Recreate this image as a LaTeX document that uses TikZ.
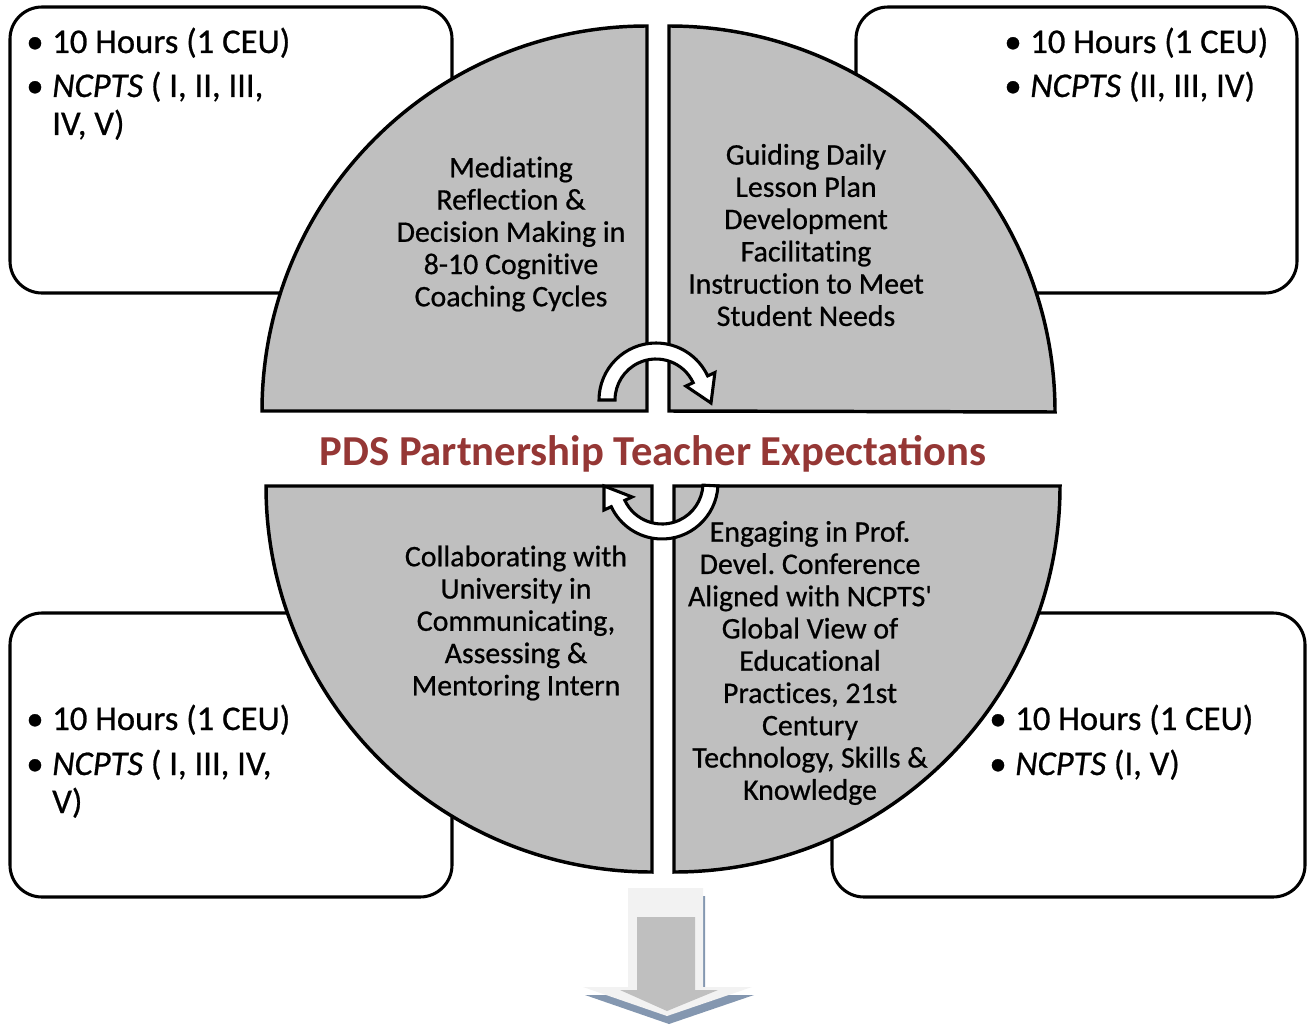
\documentclass[tikz,border=0pt]{standalone}
\usepackage{fontspec}
\setmainfont{Carlito}[RawFeature={embolden=0.7},Ligatures={NoCommon}]
\newfontfamily\titlefont{Carlito}
\definecolor{quad}{HTML}{BFBFBF}
\definecolor{ttl}{HTML}{953735}
\definecolor{shad}{HTML}{8497B0}
\definecolor{lite}{HTML}{F2F2F2}
\frenchspacing
\begin{document}
\begin{tikzpicture}[x=0.75pt,y=-0.75pt,
  infobox/.style={draw=black,line width=2.3pt,rounded corners=24pt,fill=white},
  quadrant/.style={draw=black,line width=2.6pt,fill=quad,line join=miter},
  quadtext/.style={align=center,inner sep=0pt,font=\fontsize{22.4}{24.2}\selectfont},
  boxtext/.style={anchor=base west,inner sep=0pt,font=\fontsize{26}{30}\selectfont},
  bul/.style={anchor=base,inner sep=0pt,font=\fontsize{26}{30}\selectfont},
  cyclearrow/.style={draw=black,line width=2.3pt,fill=white,line join=miter},
  titletext/.style={anchor=base,inner sep=0pt,text=ttl,font=\titlefont\fontsize{32}{38}\selectfont\bfseries}
]
\useasboundingbox (0,0) rectangle (1308,1027);
% info boxes
\draw[infobox] (10,7) rectangle (452,293);
\draw[infobox] (856,7) rectangle (1297,293);
\draw[infobox] (10,613) rectangle (452,897);
\draw[infobox] (832,613) rectangle (1305,897);
% quadrants
\draw[quadrant] (647,411) -- (262,411) arc[start angle=180,end angle=270,radius=385] -- cycle;
\draw[quadrant] (669,411) -- (669,26) arc[start angle=270,end angle=360,radius=386] -- cycle;
\draw[quadrant] (652,486) -- (266,486) arc[start angle=180,end angle=90,radius=386] -- cycle;
\draw[quadrant] (674,486) -- (1060,486) arc[start angle=0,end angle=90,radius=386] -- cycle;
% cycle arrows
\draw[cyclearrow,shift={(656,400)}] (180:57) arc[start angle=180,end angle=335,radius=57]
  -- (335:65) -- (55,3) -- (335:33) -- (335:41) arc[start angle=335,end angle=180,radius=41] -- cycle;
\draw[cyclearrow,shift={(662,483)}] (3:56) arc[start angle=3,end angle=155,radius=56]
  -- (155:64) -- (-58,3) -- (155:33) -- (155:41) arc[start angle=155,end angle=3,radius=41] -- cycle;
% title
\node[titletext] (title) at (653,465) {PDS Partnership Teacher Expectations};
% quadrant texts
\node[quadtext] (qtl) at (511,234) {Mediating\\Reflection \&\\Decision Making in\\8-10 Cognitive\\Coaching Cycles};
\node[quadtext] (qtr) at (806,235) {Guiding Daily\\Lesson Plan\\Development\\Facilitating\\Instruction to Meet\\Student Needs};
\node[quadtext] (qbl) at (516,623) {Collaborating with\\University in\\Communicating,\\Assessing \&\\Mentoring Intern};
\node[quadtext] (qbr) at (810,663) {Engaging in Prof.\\Devel. Conference\\Aligned with NCPTS\textquotesingle\\Global View of\\Educational\\Practices, 21st\\Century\\Technology, Skills \&\\Knowledge};
% box texts
\node[bul] (b1a) at (35,53) {•};
\node[boxtext] (t1a) at (52,53) {10 Hours (1 CEU)};
\node[bul] (b1b) at (35,97) {•};
\node[boxtext] (t1b) at (52,97) {\textit{NCPTS} ( I, II, III,};
\node[boxtext] (t1c) at (52,135) {IV, V)};
\node[bul] (b2a) at (1013,53) {•};
\node[boxtext] (t2a) at (1030,53) {10 Hours (1 CEU)};
\node[bul] (b2b) at (1013,97) {•};
\node[boxtext] (t2b) at (1030,97) {\textit{NCPTS} (II, III, IV)};
\node[bul] (b3a) at (35,730) {•};
\node[boxtext] (t3a) at (52,730) {10 Hours (1 CEU)};
\node[bul] (b3b) at (35,775) {•};
\node[boxtext] (t3b) at (52,775) {\textit{NCPTS} ( I, III, IV,};
\node[boxtext] (t3c) at (52,813) {V)};
\node[bul] (b4a) at (998,730) {•};
\node[boxtext] (t4a) at (1015,730) {10 Hours (1 CEU)};
\node[bul] (b4b) at (998,775) {•};
\node[boxtext] (t4b) at (1015,775) {\textit{NCPTS} (I, V)};
% down arrow
\fill[shad,shift={(2,8)}] (628,888) -- (703,888) -- (703,987) -- (752,987) -- (667,1016) -- (583,987) -- (628,987) -- cycle;
\fill[lite] (628,888) -- (703,888) -- (703,987) -- (752,987) -- (667,1016) -- (583,987) -- (628,987) -- cycle;
\fill[quad] (637,917) -- (695,917) -- (695,990) -- (718,990) -- (667,1011) -- (620,990) -- (637,990) -- cycle;
\end{tikzpicture}
\end{document}
